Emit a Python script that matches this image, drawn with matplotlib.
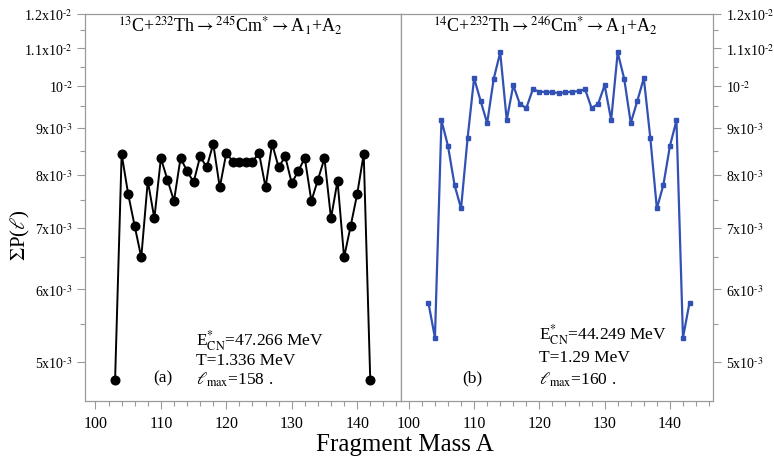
import numpy as np
import matplotlib
matplotlib.use('Agg')
import matplotlib.pyplot as plt
from matplotlib.ticker import FixedLocator, MultipleLocator, NullFormatter

plt.rcParams['font.family'] = ['Liberation Serif', 'DejaVu Serif']
plt.rcParams['mathtext.fontset'] = 'stix'

# panel (a): 13C + 232Th -> 245Cm*
mass_a = list(range(103, 143))
prob_a = [4.78e-3, 8.43e-3, 7.62e-3, 7.03e-3, 6.50e-3, 7.88e-3, 7.17e-3, 8.34e-3,
          7.90e-3, 7.49e-3, 8.34e-3, 8.08e-3, 7.85e-3, 8.38e-3, 8.15e-3, 8.65e-3,
          7.75e-3, 8.45e-3, 8.27e-3, 8.27e-3, 8.27e-3, 8.27e-3, 8.45e-3, 7.75e-3,
          8.65e-3, 8.15e-3, 8.38e-3, 7.83e-3, 8.08e-3, 8.34e-3, 7.49e-3, 7.90e-3,
          8.34e-3, 7.17e-3, 7.88e-3, 6.50e-3, 7.03e-3, 7.62e-3, 8.43e-3, 4.78e-3]

# panel (b): 14C + 232Th -> 246Cm*
mass_b = list(range(103, 144))
prob_b = [5.80e-3, 5.31e-3, 9.17e-3, 8.60e-3, 7.80e-3, 7.35e-3, 8.77e-3, 1.020e-2,
          9.63e-3, 9.11e-3, 1.018e-2, 1.088e-2, 9.18e-3, 1.002e-2, 9.56e-3, 9.46e-3,
          9.92e-3, 9.86e-3, 9.85e-3, 9.84e-3, 9.83e-3, 9.84e-3, 9.86e-3, 9.87e-3,
          9.92e-3, 9.46e-3, 9.56e-3, 1.002e-2, 9.18e-3, 1.088e-2, 1.018e-2, 9.11e-3,
          9.63e-3, 1.020e-2, 8.77e-3, 7.35e-3, 7.80e-3, 8.60e-3, 9.17e-3, 5.31e-3,
          5.80e-3]

ytick_vals = [5e-3, 6e-3, 7e-3, 8e-3, 9e-3, 1e-2, 1.1e-2, 1.2e-2]
ytick_labels = [r'5x10$^{\text{-}3}$', r'6x10$^{\text{-}3}$', r'7x10$^{\text{-}3}$',
                r'8x10$^{\text{-}3}$', r'9x10$^{\text{-}3}$', r'10$^{\text{-}2}$',
                r'1.1x10$^{\text{-}2}$', r'1.2x10$^{\text{-}2}$']
yminor_vals = [5.5e-3, 6.5e-3, 7.5e-3, 8.5e-3, 9.5e-3, 1.05e-2, 1.15e-2]
xtick_vals = [100, 110, 120, 130, 140]

W, H = 774, 460
fig = plt.figure(figsize=(W / 100, H / 100), dpi=100)

def px(x, y):
    return x / W, 1 - y / H

top, bot = 14.5, 402
ax1 = fig.add_axes([85 / W, 1 - bot / H, (401 - 85) / W, (bot - top) / H])
ax2 = fig.add_axes([401 / W, 1 - bot / H, (713 - 401) / W, (bot - top) / H])

ax1.plot(mass_a, prob_a, color='black', lw=1.4, marker='o', ms=6.2)
ax2.plot(mass_b, prob_b, color='#3251b4', lw=1.6, marker='s', ms=3.2)

gray = '#9a9a9a'
for ax in (ax1, ax2):
    ax.set_yscale('log')
    ax.set_ylim(4.53e-3, 1.2e-2)
    ax.yaxis.set_major_locator(FixedLocator(ytick_vals))
    ax.yaxis.set_minor_locator(FixedLocator(yminor_vals))
    ax.yaxis.set_minor_formatter(NullFormatter())
    ax.set_yticklabels(ytick_labels)
    ax.xaxis.set_major_locator(FixedLocator(xtick_vals))
    ax.xaxis.set_minor_locator(MultipleLocator(2))
    ax.tick_params(which='major', direction='out', length=6, width=0.8, color=gray)
    ax.tick_params(which='minor', direction='out', length=3.5, width=0.8, color=gray)
    ax.tick_params(axis='x', labelsize=11.5, pad=4)
    ax.tick_params(axis='y', labelsize=10, pad=3)
    for s in ax.spines.values():
        s.set_color(gray)
        s.set_linewidth(0.9)

ax1.set_xlim(98.4, 146.7)
ax2.set_xlim(98.8, 146.6)
ax1.tick_params(axis='y', which='both', left=True, right=False)
ax2.yaxis.tick_right()
ax2.tick_params(axis='y', which='both', left=False, right=True)

ax1.text(*px(118, 32), r'$^{13}$C+$^{232}$Th$\rightarrow$$^{245}$Cm$^{*}$$\rightarrow$A$_{1}$+A$_{2}$',
         transform=fig.transFigure, fontsize=13, va='baseline', ha='left')
ax2.text(*px(433, 32), r'$^{14}$C+$^{232}$Th$\rightarrow$$^{246}$Cm$^{*}$$\rightarrow$A$_{1}$+A$_{2}$',
         transform=fig.transFigure, fontsize=13, va='baseline', ha='left')

fs = 12.5
fig.text(*px(196, 341), r'E$^{*}_{\rm CN}$=47.266 MeV', fontsize=fs, va='center')
fig.text(*px(196, 361), 'T=1.336 MeV', fontsize=fs, va='center')
fig.text(*px(196, 380), r'$\ell_{\rm max}$=158 .', fontsize=fs, va='center')
fig.text(*px(153, 378), '(a)', fontsize=fs, va='center')

fig.text(*px(539, 335), r'E$^{*}_{\rm CN}$=44.249 MeV', fontsize=fs, va='center')
fig.text(*px(539, 358), 'T=1.29 MeV', fontsize=fs, va='center')
fig.text(*px(539, 380), r'$\ell_{\rm max}$=160 .', fontsize=fs, va='center')
fig.text(*px(462, 378), '(b)', fontsize=fs, va='center')

fig.text(*px(20, 235), r'$\Sigma$P($\ell$)', fontsize=15, rotation=90, va='center', ha='center')
fig.text(*px(405, 445), 'Fragment Mass A', fontsize=18, va='center', ha='center')

fig.savefig('out.png', dpi=100)
